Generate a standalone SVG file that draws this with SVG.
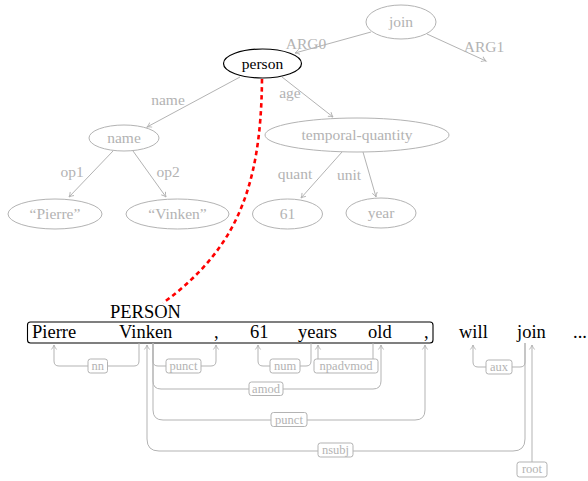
<svg xmlns="http://www.w3.org/2000/svg" width="588" height="481" viewBox="0 0 588 481">
<defs>
<marker id="ah" markerUnits="userSpaceOnUse" markerWidth="12" markerHeight="12" refX="0" refY="0" orient="auto" overflow="visible">
<path d="M-4.5,-2.6 Q-2,-0.6 0,0 Q-2,0.6 -4.5,2.6" fill="none" stroke="#b3b3b3" stroke-width="0.9"/>
</marker>
</defs>
<style>
.g{fill:none;stroke:#b3b3b3;stroke-width:1}
.gt{font-family:"Liberation Serif","DejaVu Serif",serif;fill:#b3b3b3;text-anchor:middle}
.n{font-size:15.5px}
.e{font-size:15.5px}
.w{font-family:"Liberation Serif","DejaVu Serif",serif;fill:#000;font-size:18.5px}
.lb{fill:#fff;stroke:#b3b3b3;stroke-width:1}
.lt{font-family:"Liberation Serif","DejaVu Serif",serif;fill:#b3b3b3;font-size:12.5px;text-anchor:middle}
.arc{fill:none;stroke:#b3b3b3;stroke-width:1;marker-end:url(#ah)}
</style>
<rect width="588" height="481" fill="#fff"/>

<g id="connectors">
<path class="arc" d="M371,32 L295,53"/>
<path class="arc" d="M427,34 L486,61"/>
<path class="arc" d="M240,77 L147,127"/>
<path class="arc" d="M282,77 L333,117"/>
<path class="arc" d="M113,151 L69,197"/>
<path class="arc" d="M133,151 L166,197"/>
<path class="arc" d="M342,152 L301,198"/>
<path class="arc" d="M363,152 L376,197"/>
<text class="gt e" x="306" y="49">ARG0</text>
<text class="gt e" x="484" y="52">ARG1</text>
<text class="gt e" x="168" y="105">name</text>
<text class="gt e" x="290" y="98">age</text>
<text class="gt e" x="72" y="177">op1</text>
<text class="gt e" x="168" y="177">op2</text>
<text class="gt e" x="295" y="179">quant</text>
<text class="gt e" x="349" y="180">unit</text>
<path d="M262,79 C261,190 235,250 163,303" fill="none" stroke="#ff0000" stroke-width="2.6" stroke-dasharray="4.5,3.5"/>
</g>

<g id="node-join"><ellipse class="g" cx="401" cy="22" rx="35" ry="17"/><text class="gt n" x="401" y="27">join</text></g>
<g id="node-person"><ellipse cx="262.5" cy="63.5" rx="39" ry="14.5" fill="#fff" stroke="#000" stroke-width="1.2"/><text x="262.5" y="68.5" font-family="Liberation Serif, DejaVu Serif, serif" font-size="15.5" text-anchor="middle" fill="#000">person</text></g>
<g id="node-name"><ellipse class="g" cx="124" cy="138" rx="35" ry="13"/><text class="gt n" x="124" y="143">name</text></g>
<g id="node-tq"><ellipse class="g" cx="357" cy="135" rx="92" ry="17"/><text class="gt n" x="357" y="140">temporal-quantity</text></g>
<g id="node-pierre"><ellipse class="g" cx="55" cy="214" rx="47" ry="15"/><text class="gt n" x="55" y="219">“Pierre”</text></g>
<g id="node-vinken"><ellipse class="g" cx="177.5" cy="214" rx="51.5" ry="15"/><text class="gt n" x="177.5" y="219">“Vinken”</text></g>
<g id="node-61"><ellipse class="g" cx="287.5" cy="214" rx="35" ry="15"/><text class="gt n" x="287.5" y="219">61</text></g>
<g id="node-year"><ellipse class="g" cx="381" cy="213" rx="35" ry="15"/><text class="gt n" x="381" y="218">year</text></g>

<g id="sentence">
<rect x="27.5" y="322" width="405.5" height="21" rx="3" fill="none" stroke="#000" stroke-width="1.1"/>
<text class="w" x="110" y="318">PERSON</text>
<text class="w" x="32" y="337.5">Pierre</text>
<text class="w" x="119" y="337.5">Vinken</text>
<text class="w" x="214" y="337.5">,</text>
<text class="w" x="250" y="337.5">61</text>
<text class="w" x="298" y="337.5">years</text>
<text class="w" x="368" y="337.5">old</text>
<text class="w" x="424" y="337.5">,</text>
<text class="w" x="459" y="337.5">will</text>
<text class="w" x="517" y="337.5">join</text>
<text class="w" x="573" y="337.5">...</text>
</g>

<g id="dependencies">
<path class="arc" d="M139,343 V361 Q139,366 134,366 H59 Q54,366 54,361 V345"/>
<path class="arc" d="M153,343 V361 Q153,366 158,366 H211 Q216,366 216,361 V345"/>
<path class="arc" d="M311,343 V361 Q311,366 306,366 H263 Q258,366 258,361 V345"/>
<path class="arc" d="M373,343 V361 Q373,366 368,366 H323 Q318,366 318,361 V345"/>
<path class="arc" d="M153,343 V381 Q153,389 161,389 H373 Q381,389 381,381 V345"/>
<path class="arc" d="M153,343 V410 Q153,420 163,420 H415 Q425,420 425,410 V345"/>
<path class="arc" d="M525,343 V439 Q525,451 513,451 H159 Q147,451 147,439 V345"/>
<path class="arc" d="M525,343 V362 Q525,367 520,367 H478 Q473,367 473,362 V345"/>
<path class="arc" d="M532,462 V345"/>
<g id="lab-nn"><rect class="lb" x="88" y="359" width="19.5" height="14" rx="2.5"/><text class="lt" x="97.75" y="370">nn</text></g>
<g id="lab-punct1"><rect class="lb" x="166" y="359" width="35" height="14" rx="2.5"/><text class="lt" x="183.5" y="370">punct</text></g>
<g id="lab-num"><rect class="lb" x="270" y="359" width="30" height="14" rx="2.5"/><text class="lt" x="285" y="370">num</text></g>
<g id="lab-npadvmod"><rect class="lb" x="314" y="359" width="64" height="14" rx="2.5"/><text class="lt" x="346" y="370">npadvmod</text></g>
<g id="lab-amod"><rect class="lb" x="249" y="382" width="34" height="13.5" rx="2.5"/><text class="lt" x="266" y="392.5">amod</text></g>
<g id="lab-punct2"><rect class="lb" x="271" y="412.5" width="36" height="14" rx="2.5"/><text class="lt" x="289" y="423.5">punct</text></g>
<g id="lab-nsubj"><rect class="lb" x="318" y="443" width="35" height="14" rx="2.5"/><text class="lt" x="335.5" y="454">nsubj</text></g>
<g id="lab-aux"><rect class="lb" x="486" y="360" width="26" height="14" rx="2.5"/><text class="lt" x="499" y="371">aux</text></g>
<g id="lab-root"><rect class="lb" x="517" y="462" width="30" height="15" rx="2.5"/><text class="lt" x="532" y="473">root</text></g>
</g>
</svg>
